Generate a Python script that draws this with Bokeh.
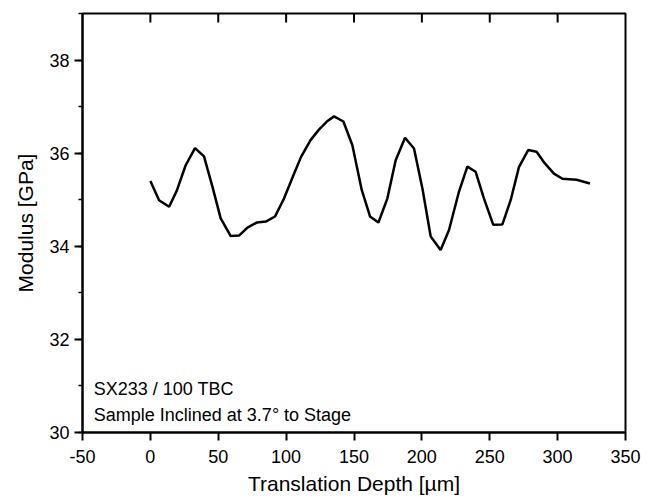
from bokeh.plotting import figure
from bokeh.models import LinearAxis, SingleIntervalTicker, Range1d, Label, PrintfTickFormatter
from bokeh.embed import file_html
from bokeh.resources import INLINE

depth = [0, 6.4, 13.8, 19.4, 26, 32.9, 39.5, 45.7, 51.8, 59.2, 65.3, 71.5, 78.3,
         85, 91.8, 98.5, 105, 111, 118, 124, 130, 135.3, 142.2, 148.8, 155.7,
         161.8, 168, 174.6, 180.7, 187.6, 194.2, 200.4, 206.5, 213.8, 220,
         227.3, 233.5, 239.6, 245.7, 252.6, 259.3, 265.4, 271.5, 278.4, 284.5,
         290.6, 297.3, 303.5, 314, 323.8]
modulus = [35.40, 34.99, 34.85, 35.19, 35.74, 36.11, 35.93, 35.28, 34.60, 34.22,
           34.23, 34.40, 34.51, 34.53, 34.64, 35.03, 35.50, 35.92, 36.28, 36.50,
           36.68, 36.79, 36.68, 36.17, 35.21, 34.64, 34.51, 35.03, 35.85, 36.33,
           36.10, 35.24, 34.21, 33.92, 34.35, 35.17, 35.71, 35.60, 35.03, 34.46,
           34.47, 34.99, 35.70, 36.07, 36.03, 35.78, 35.56, 35.45, 35.43, 35.35]

x_min, x_max = -50, 350
y_min, y_max = 30, 39
top_ticks = [0, 50, 100, 150, 200, 250, 300]

x_title = "Translation Depth [µm]"
y_title = "Modulus [GPa]"
note_lines = ["SX233 / 100 TBC", "Sample Inclined at 3.7° to Stage"]

FONT = "Liberation Sans"
FRAME_H = 419
TOP_TICK_PX = 9

p = figure(width=650, height=500, output_backend="svg", toolbar_location=None,
           x_range=Range1d(x_min, x_max), y_range=Range1d(y_min, y_max),
           x_axis_location=None, y_axis_location=None,
           min_border_left=82, min_border_right=25, min_border_top=13, min_border_bottom=68)
p.grid.visible = False
p.outline_line_color = "black"
p.outline_line_width = 2
p.background_fill_color = "white"
p.border_fill_color = "white"

fmt = PrintfTickFormatter(format="%d")

xb = LinearAxis(ticker=SingleIntervalTicker(interval=50, num_minor_ticks=0),
                axis_label=x_title, formatter=fmt)
xb.axis_line_width = 2
xb.major_tick_out = 8
xb.major_tick_in = 0
xb.major_tick_line_width = 2
xb.minor_tick_out = 0
xb.minor_tick_in = 0
xb.major_label_text_font = FONT
xb.major_label_text_font_size = "18px"
xb.major_label_text_color = "black"
xb.major_label_standoff = 9
xb.axis_label_text_font = FONT
xb.axis_label_text_font_size = "21px"
xb.axis_label_text_font_style = "normal"
xb.axis_label_text_color = "black"
xb.axis_label_standoff = 6
p.add_layout(xb, "below")

yl = LinearAxis(ticker=SingleIntervalTicker(interval=2, num_minor_ticks=2),
                axis_label=y_title, formatter=fmt)
yl.axis_line_width = 2
yl.major_tick_out = 8
yl.major_tick_in = 0
yl.major_tick_line_width = 2
yl.minor_tick_out = 4
yl.minor_tick_in = 0
yl.minor_tick_line_width = 1.5
yl.major_label_text_font = FONT
yl.major_label_text_font_size = "18px"
yl.major_label_text_color = "black"
yl.major_label_standoff = 5
yl.axis_label_text_font = FONT
yl.axis_label_text_font_size = "21px"
yl.axis_label_text_font_style = "normal"
yl.axis_label_text_color = "black"
yl.axis_label_standoff = 9
p.add_layout(yl, "left")

# inward ticks along the top edge
tick_len = (y_max - y_min) * TOP_TICK_PX / FRAME_H
p.segment(x0=top_ticks, y0=[y_max] * len(top_ticks), x1=top_ticks,
          y1=[y_max - tick_len] * len(top_ticks), line_color="black", line_width=2)

p.line(depth, modulus, line_color="black", line_width=2.5)

p.add_layout(Label(x=-41.7, y=30.93, text=note_lines[0], text_font=FONT,
                   text_font_size="18px", text_color="black", text_baseline="alphabetic"))
p.add_layout(Label(x=-41.7, y=30.38, text=note_lines[1], text_font=FONT,
                   text_font_size="18px", text_color="black", text_baseline="alphabetic"))

open("out.html", "w").write(file_html(p, INLINE))
